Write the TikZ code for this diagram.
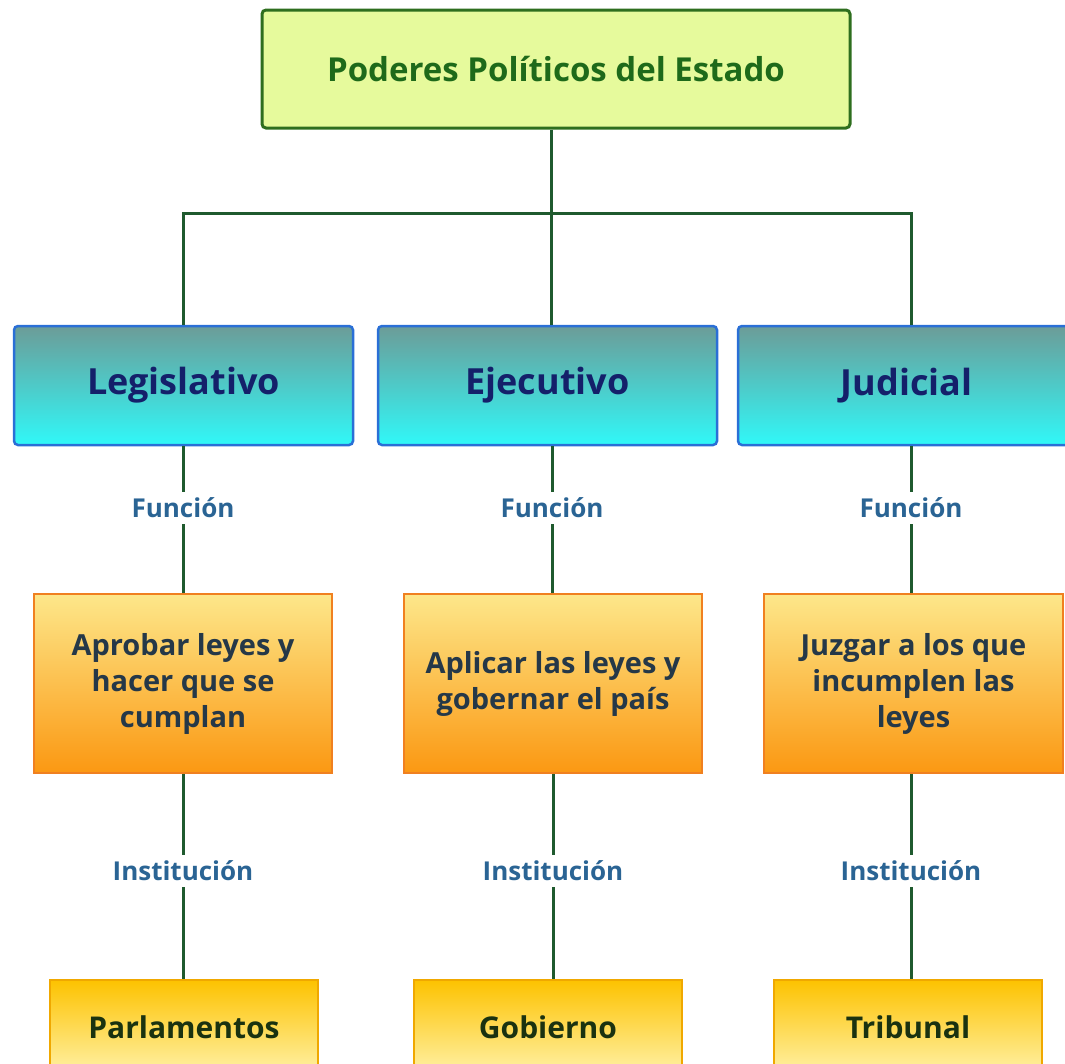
\documentclass[tikz,border=0pt]{standalone}
\usepackage{fontspec}
\setmainfont{Open Sans}
\begin{document}
\begin{tikzpicture}[x=1pt,y=-1pt,
  conn/.style={draw=linegreen,line width=3pt},
  topbox/.style={draw=topborder,line width=3pt,fill=topfill,rounded corners=4pt,minimum width=588pt,minimum height=118pt,text=toptext,font=\fontsize{33}{40}\selectfont\bfseries},
  powerbox/.style={draw=blueborder,line width=2.5pt,top color=bluetop,bottom color=bluebot,rounded corners=4pt,minimum width=339pt,minimum height=119pt,text=bluetext,font=\fontsize{36}{42}\selectfont\bfseries},
  funcbox/.style={draw=orborder,line width=2.5pt,top color=ortop,bottom color=orbot,minimum width=298pt,minimum height=179pt,text=ortext,align=center,font=\fontsize{29}{36}\selectfont\bfseries},
  instbox/.style={draw=goldborder,line width=2pt,top color=goldtop,bottom color=goldbot,minimum width=268pt,minimum height=95pt,text=goldtext,font=\fontsize{30}{36}\selectfont\bfseries},
  lbl/.style={text=lbltext,inner sep=6pt,font=\fontsize{26}{30}\selectfont\bfseries}]
\definecolor{linegreen}{HTML}{1F5A2E}
\definecolor{topborder}{HTML}{2E6E1E}
\definecolor{topfill}{HTML}{E6FA9C}
\definecolor{toptext}{HTML}{1E6A1A}
\definecolor{blueborder}{HTML}{2A6FD6}
\definecolor{bluetop}{HTML}{6C9C98}
\definecolor{bluebot}{HTML}{30F8F8}
\definecolor{bluetext}{HTML}{14206A}
\definecolor{orborder}{HTML}{F08020}
\definecolor{ortop}{HTML}{FDE78A}
\definecolor{orbot}{HTML}{FB9812}
\definecolor{ortext}{HTML}{253848}
\definecolor{goldborder}{HTML}{F0A800}
\definecolor{goldtop}{HTML}{FDC200}
\definecolor{goldbot}{HTML}{FFF2A8}
\definecolor{goldtext}{HTML}{1A3210}
\definecolor{lbltext}{HTML}{2A6494}
\useasboundingbox (0,0) rectangle (1065,1063);
\clip (0,0) rectangle (1065,1063);
% top
\node[topbox] (top) at (556,69) {Poderes Políticos del Estado};
\coordinate (j) at (551,213);
% powers
\node[powerbox] (leg) at (183.5,385.5) {Legislativo};
\node[powerbox] (eje) at (547.5,385.5) {Ejecutivo};
\node[powerbox,minimum width=337pt] (jud) at (906.5,385.5) {Judicial};
% labels
\node[lbl] (f1) at (183,508) {Función};
\node[lbl] (f2) at (552,508) {Función};
\node[lbl] (f3) at (911,508) {Función};
% function boxes
\node[funcbox] (a1) at (183,683.5) {Aprobar leyes y\\hacer que se\\cumplan};
\node[funcbox] (a2) at (553,683.5) {Aplicar las leyes y\\gobernar el país};
\node[funcbox,minimum width=299pt] (a3) at (913.5,683.5) {Juzgar a los que\\incumplen las\\leyes};
% labels
\node[lbl] (i1) at (183,871) {Institución};
\node[lbl] (i2) at (553,871) {Institución};
\node[lbl] (i3) at (911,871) {Institución};
% inst boxes
\node[instbox] (p1) at (184,1027.5) {Parlamentos};
\node[instbox] (p2) at (548,1027.5) {Gobierno};
\node[instbox] (p3) at (908,1027.5) {Tribunal};
% connectors
\draw[conn] (j |- top.south) -- (j);
\draw[conn] (j) -| (f1.center |- leg.north);
\draw[conn] (j) -- (j |- eje.north);
\draw[conn] (j) -| (f3.center |- jud.north);
\draw[conn] (f1.center |- leg.south) -- (f1);
\draw[conn] (f2.center |- eje.south) -- (f2);
\draw[conn] (f3.center |- jud.south) -- (f3);
\draw[conn] (f1) -- (f1.center |- a1.north);
\draw[conn] (f2) -- (f2.center |- a2.north);
\draw[conn] (f3) -- (f3.center |- a3.north);
\draw[conn] (i1.center |- a1.south) -- (i1);
\draw[conn] (i2.center |- a2.south) -- (i2);
\draw[conn] (i3.center |- a3.south) -- (i3);
\draw[conn] (i1) -- (i1.center |- p1.north);
\draw[conn] (i2) -- (i2.center |- p2.north);
\draw[conn] (i3) -- (i3.center |- p3.north);
\end{tikzpicture}
\end{document}
